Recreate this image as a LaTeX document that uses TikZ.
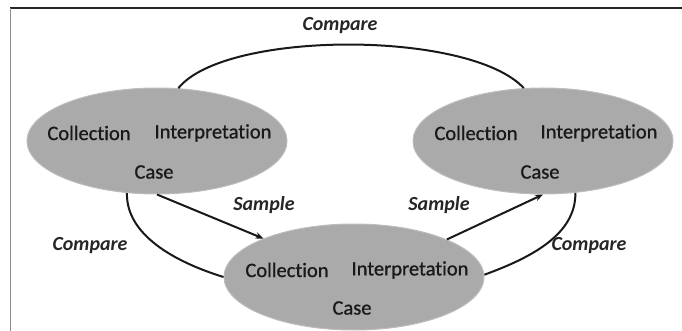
\documentclass[tikz,border=0pt]{standalone}
\usepackage{fontspec}
\setmainfont[RawFeature=-liga]{Carlito}
\newfontfamily\wordfont[RawFeature=-liga,FakeBold=0.8]{Carlito}
\usetikzlibrary{shapes.geometric,arrows.meta}
\definecolor{ellfill}{HTML}{AAAAAA}
\definecolor{elledge}{HTML}{BDBDBD}
\tikzset{
  stage/.style={ellipse, draw=elledge, line width=1pt, fill=ellfill, minimum width=260pt, minimum height=106pt, inner sep=0pt},
  word/.style={font=\wordfont\fontsize{20.5}{21}\selectfont, text=black!90, inner sep=0pt},
  lab/.style={font=\fontsize{20}{21}\selectfont\bfseries\itshape, text=black!85, inner sep=0pt},
  conn/.style={line width=2pt, black!90},
  arr/.style={conn, -{Stealth[length=8pt,width=6.5pt]}}
}
\begin{document}
\begin{tikzpicture}[x=1pt,y=-1pt]
\useasboundingbox (0,0) rectangle (682,331);
\draw[line width=1.6pt, black!85] (10,8) -- (682,8);
\draw[line width=1.6pt, black!45] (10.5,8) -- (10.5,331);
\node[stage] (L) at (157,141) {};
\node[stage] (R) at (543,141) {};
\node[stage] (B) at (354,277) {};
% texts
\node[word] (Lc) at (89,133) {Collection};
\node[word] (Li) at (213,133) {Interpretation};
\node[word] (Lk) at (154,172) {Case};
\node[word] (Rc) at (476,133) {Collection};
\node[word] (Ri) at (599,133) {Interpretation};
\node[word] (Rk) at (540,172) {Case};
\node[word] (Bc) at (287,270) {Collection};
\node[word] (Bi) at (410,270) {Interpretation};
\node[word] (Bk) at (352,308) {Case};
% connectors
\draw[conn] (L.68) .. controls (225,30) and (470,30) .. (R.110);
\draw[conn] (L.240) .. controls (126,235) and (175,262) .. (B.180);
\draw[conn] (B.1) .. controls (530,258) and (576,235) .. (R.302);
\draw[arr] (L.270) -- (B.157.6);
\draw[arr] (B.22) -- (R.270);
% labels
\node[lab] (t1) at (340,26) {Compare};
\node[lab] (t2) at (90,246) {Compare};
\node[lab] (t3) at (589,246) {Compare};
\node[lab] (s1) at (264,205) {Sample};
\node[lab] (s2) at (439,205) {Sample};
\end{tikzpicture}
\end{document}
